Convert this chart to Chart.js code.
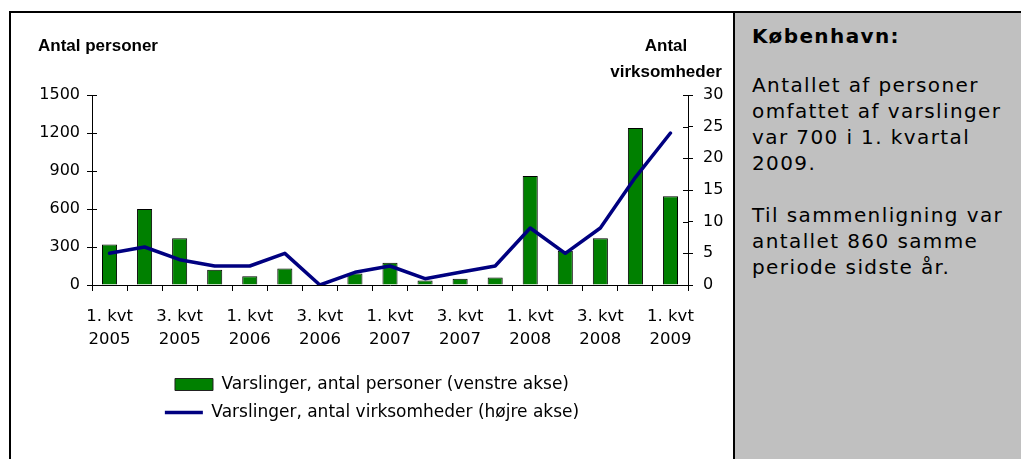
<!DOCTYPE html>
<html><head><meta charset="utf-8">
<script src="https://cdn.jsdelivr.net/npm/chart.js@4.4.0/dist/chart.umd.min.js"></script>
<style>
html,body{margin:0;padding:0;background:#fff;width:1021px;height:459px;overflow:hidden;position:relative;}
#frame{position:absolute;left:9px;top:11px;width:1100px;height:500px;border-top:2px solid #000;border-left:2px solid #000;}
#panel{position:absolute;left:733px;top:13px;width:300px;height:460px;background:#c0c0c0;border-left:2px solid #000;}
#chartbox{position:absolute;left:11px;top:13px;width:722px;height:446px;}
.ttl{position:absolute;font-family:"Liberation Sans",Arial,sans-serif;font-weight:bold;font-size:17px;line-height:26px;color:#000;white-space:nowrap;}
.ptxt{position:absolute;left:752px;font-family:"DejaVu Sans",Verdana,sans-serif;font-size:20px;letter-spacing:1.4px;line-height:26px;color:#000;white-space:nowrap;}
</style></head>
<body>
<div id="frame"></div>
<div id="panel"></div>
<div class="ptxt" style="top:23px;font-weight:bold;">København:</div>
<div class="ptxt" style="top:72px;">Antallet af personer<br>omfattet af varslinger<br>var 700 i 1. kvartal<br>2009.</div>
<div class="ptxt" style="top:202px;">Til sammenligning var<br>antallet 860 samme<br>periode sidste år.</div>
<div id="chartbox"><canvas id="c" width="722" height="446"></canvas></div>
<div class="ttl" style="left:38px;top:33px;">Antal personer</div>
<div class="ttl" style="left:606px;top:33px;width:120px;text-align:center;">Antal<br>virksomheder</div>
<script>
const quarterLabels = [
  ['1. kvt','2005'],['2. kvt','2005'],['3. kvt','2005'],['4. kvt','2005'],
  ['1. kvt','2006'],['2. kvt','2006'],['3. kvt','2006'],['4. kvt','2006'],
  ['1. kvt','2007'],['2. kvt','2007'],['3. kvt','2007'],['4. kvt','2007'],
  ['1. kvt','2008'],['2. kvt','2008'],['3. kvt','2008'],['4. kvt','2008'],
  ['1. kvt','2009']
];
const personsLabel = 'Varslinger, antal personer (venstre akse)';
const companiesLabel = 'Varslinger, antal virksomheder (højre akse)';
const persons = [320, 600, 370, 120, 70, 130, 0, 90, 175, 35, 50, 60, 860, 270, 370, 1240, 700];
const companies = [5, 6, 4, 3, 3, 5, 0, 2, 3, 1, 2, 3, 9, 5, 9, 17, 24];
const leftTicks = [0, 300, 600, 900, 1200, 1500];
const rightTicks = [0, 5, 10, 15, 20, 25, 30];

const CANVAS_H = 446, AREA_BOTTOM = 272, PAD_BOTTOM = 28;

const crossTicks = {
  id: 'crossTicks',
  afterDraw(chart) {
    const ctx = chart.ctx, a = chart.chartArea;
    ctx.save();
    ctx.strokeStyle = '#000';
    ctx.lineWidth = 1;
    chart.scales.y.ticks.forEach(t => {
      const y = Math.round(chart.scales.y.getPixelForValue(t.value)) + 0.5;
      ctx.beginPath(); ctx.moveTo(a.left, y); ctx.lineTo(a.left + 5, y); ctx.stroke();
    });
    chart.scales.y1.ticks.forEach(t => {
      const y = Math.round(chart.scales.y1.getPixelForValue(t.value)) + 0.5;
      ctx.beginPath(); ctx.moveTo(a.right - 5, y); ctx.lineTo(a.right, y); ctx.stroke();
    });
    ctx.restore();
  }
};

const tickFont = {family: 'DejaVu Sans', size: 16};

new Chart(document.getElementById('c'), {
  type: 'bar',
  data: {
    labels: quarterLabels,
    datasets: [
      {
        type: 'bar', label: personsLabel, data: persons, yAxisID: 'y',
        backgroundColor: '#008000', borderColor: '#000', borderWidth: 1,
        barPercentage: 0.43, categoryPercentage: 1, order: 1
      },
      {
        type: 'line', label: companiesLabel, data: companies, yAxisID: 'y1',
        borderColor: '#000080', borderWidth: 3.5, pointRadius: 0, tension: 0,
        fill: false, order: 0, borderJoinStyle: 'round', borderCapStyle: 'round'
      }
    ]
  },
  options: {
    responsive: false,
    animation: false,
    layout: {padding: {left: 0, right: 0, top: 82, bottom: PAD_BOTTOM}},
    plugins: {
      tooltip: {enabled: false},
      title: {display: false},
      legend: {
        position: 'bottom',
        labels: {
          color: '#000',
          font: {family: 'DejaVu Sans', size: 17},
          usePointStyle: true,
          pointStyleWidth: 38,
          boxHeight: 12,
          padding: 11,
          sort: (a, b) => a.datasetIndex - b.datasetIndex,
          generateLabels(chart) {
            const items = Chart.defaults.plugins.legend.labels.generateLabels(chart);
            items.forEach(it => {
              if (it.datasetIndex === 0) {
                it.pointStyle = 'rect'; it.fillStyle = '#008000'; it.strokeStyle = '#222'; it.lineWidth = 1;
              } else {
                it.pointStyle = 'line'; it.strokeStyle = '#000080'; it.fillStyle = '#000080'; it.lineWidth = 3.5;
              }
            });
            return items;
          }
        }
      }
    },
    scales: {
      x: {
        offset: true,
        grid: {display: true, drawOnChartArea: false, drawTicks: true, tickLength: 6, color: '#000', offset: true},
        border: {color: '#000', width: 1},
        ticks: {
          autoSkip: false, maxRotation: 0, minRotation: 0, color: '#000', padding: 14,
          font: {family: 'DejaVu Sans', size: 16.5, lineHeight: 1.4},
          callback(v, i) { return i % 2 === 0 ? this.getLabelForValue(v) : ''; }
        },
        afterFit(s) { s.height = CANVAS_H - AREA_BOTTOM - PAD_BOTTOM - s.chart.legend.height; }
      },
      y: {
        position: 'left', min: 0, max: 1500,
        afterBuildTicks(s) { s.ticks = leftTicks.map(v => ({value: v})); },
        ticks: {color: '#000', font: tickFont, padding: 7, callback: v => String(v)},
        grid: {drawOnChartArea: false, tickLength: 5, color: '#000'},
        border: {color: '#000', width: 1},
        afterFit(s) { s.width = 81; }
      },
      y1: {
        position: 'right', min: 0, max: 30,
        afterBuildTicks(s) { s.ticks = rightTicks.map(v => ({value: v})); },
        ticks: {color: '#000', font: tickFont, padding: 10, callback: v => String(v)},
        grid: {drawOnChartArea: false, tickLength: 5, color: '#000'},
        border: {color: '#000', width: 1},
        afterFit(s) { s.width = 45; }
      }
    }
  },
  plugins: [crossTicks]
});
</script>
</body></html>
